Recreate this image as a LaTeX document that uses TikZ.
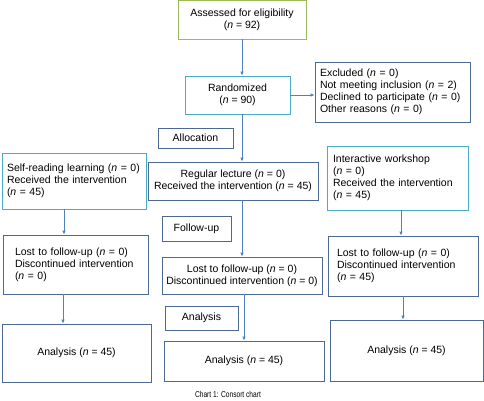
\documentclass[tikz,border=0pt]{standalone}
\usepackage{fontspec}
\setmainfont{Liberation Sans}
\newfontfamily\capfont[FakeStretch=0.78]{Liberation Sans}
\usepackage{tikz}
\usetikzlibrary{positioning, arrows.meta, calc}
\usepackage{xcolor}
\definecolor{olivec}{HTML}{9BBB59}
\definecolor{tealc}{HTML}{4BACC6}
\definecolor{slatec}{HTML}{4A6A94}
\definecolor{arrowc}{HTML}{4F81BD}
\newcommand{\nn}{\textit{n}}

\begin{document}
\begin{tikzpicture}[x=1pt, y=-1pt,
    box/.style={draw=slatec, line width=0.8pt, fill=white, inner sep=2pt,
      font=\fontsize{10.5}{12}\selectfont, align=center},
    lbox/.style={box, align=left},
    arr/.style={draw=arrowc, line width=0.8pt, -{Latex[length=4pt, width=3.6pt]}}]
    \fill[white] (0,0) rectangle (484,400);
    \useasboundingbox (0,0) rectangle (484,400);
    %--- ENROLMENT ---
    \node[box, draw=olivec, minimum width=128, minimum height=39] (assess) at (242,19.5)
      {Assessed for eligibility\\(\nn{} = 92)};
    \node[box, draw=tealc, minimum width=105, minimum height=38] (rand) at (237.5,95)
      {Randomized\\(\nn{} = 90)};
    \node[lbox, text width=145, inner xsep=5, minimum height=60] (excl) at (392.5,92)
      {Excluded (\nn{} = 0)\\Not meeting inclusion (\nn{} = 2)\\Declined to participate (\nn{} = 0)\\Other reasons (\nn{} = 0)};
    %--- ALLOCATION ---
    \node[box, minimum width=75, minimum height=20] (alloc) at (195.5,138) {Allocation};
    \node[lbox, draw=tealc, text width=134, inner xsep=5, minimum height=56] (self) at (74,181)
      {Self-reading learning (\nn{} = 0)\\Received the intervention\\(\nn{} = 45)};
    \node[box, minimum width=170, minimum height=38] (reg) at (233,181)
      {Regular lecture (\nn{} = 0)\\Received the intervention (\nn{} = 45)};
    \node[lbox, draw=tealc, text width=129, inner xsep=6, minimum height=64] (inter) at (397.5,178)
      {Interactive workshop\\(\nn{} = 0)\\Received the intervention\\(\nn{} = 45)};
    %--- FOLLOW-UP ---
    \node[box, minimum width=69, minimum height=25] (follow) at (196.5,228.5) {Follow-up};
    \node[lbox, text width=121, inner xsep=12, minimum height=59] (lostl) at (75.5,264.5)
      {Lost to follow-up (\nn{} = 0)\\Discontinued intervention\\(\nn{} = 0)};
    \node[box, minimum width=160, minimum height=37] (lostm) at (242,275.5)
      {Lost to follow-up (\nn{} = 0)\\Discontinued intervention (\nn{} = 0)};
    \node[lbox, text width=132, inner xsep=9, minimum height=60] (lostr) at (403,266)
      {Lost to follow-up (\nn{} = 0)\\Discontinued intervention\\(\nn{} = 45)};
    %--- ANALYSIS ---
    \node[box, minimum width=73, minimum height=24] (anal) at (201.5,318) {Analysis};
    \node[box, minimum width=149, minimum height=58] (analL) at (76.5,353) {Analysis (\nn{} = 45)};
    \node[box, minimum width=160, minimum height=40] (analM) at (244,361) {Analysis (\nn{} = 45)};
    \node[box, minimum width=153, minimum height=61] (analR) at (406.5,350.5) {Analysis (\nn{} = 45)};
    %--- ARROWS ---
    \draw[arr] (assess.south) -- (assess.south |- rand.north);
    \draw[arr] (rand.east) -- (rand.east -| excl.west);
    \draw[arr] (assess.south |- rand.south) -- (assess.south |- reg.north);
    \draw[arr] ([xshift=-10pt]self.south) -- ([xshift=-10pt]self.south |- lostl.north);
    \draw[arr] (lostm.north |- reg.south) -- (lostm.north);
    \draw[arr] ([xshift=3.5pt]inter.south) -- ([xshift=3.5pt]inter.south |- lostr.north);
    \draw[arr] ([xshift=-13.5pt]analL.north |- lostl.south) -- ([xshift=-13.5pt]analL.north);
    \draw[arr] (analM.north |- lostm.south) -- (analM.north);
    \draw[arr] (lostr.south) -- (lostr.south |- analR.north);
    %--- CAPTION ---
    \node[font=\capfont\fontsize{8.5}{9}\selectfont] (caption) at (228,394) {Chart 1: Consort chart};
  \end{tikzpicture}
\end{document}
